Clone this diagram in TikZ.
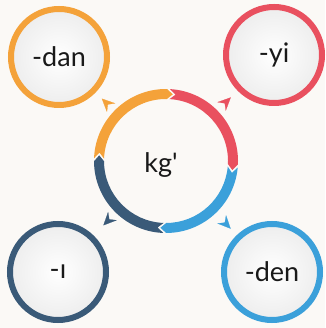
\documentclass[tikz,border=0pt]{standalone}
\usepackage{fontspec}
\setmainfont{Lato}
\usetikzlibrary{calc}
\usetikzlibrary{arrows.meta}
\definecolor{cOrange}{HTML}{F4A23A}
\definecolor{cRed}{HTML}{E9505F}
\definecolor{cDark}{HTML}{3A5A78}
\definecolor{cLight}{HTML}{3BA0DA}
\definecolor{paper}{HTML}{FBF9F6}

\def\rOut{72}
\def\rIn{62}
\def\rMid{67}
\def\gapA{1.2}
\def\tipA{5}

% one piece of the ring, clockwise from #2 to #3
\newcommand{\ringarrow}[3]{%
  \fill[#1] (#2-\gapA:\rOut) arc[start angle=#2-\gapA, end angle=#3+\gapA, radius=\rOut]
    -- (#3+\gapA-\tipA:\rMid) -- (#3+\gapA:\rIn)
    arc[start angle=#3+\gapA, end angle=#2-\gapA, radius=\rIn]
    -- (#2-\gapA-\tipA:\rMid) -- cycle;}

\begin{document}
\begin{tikzpicture}[x=1pt, y=1pt,
  suffix/.style={circle, draw=#1, line width=6pt, minimum size=96pt,
    inner color=white, outer color=black!7, text=black!90,
    font=\fontsize{27}{30}\selectfont},
  smallhead/.style={#1, line width=0.2pt,
    -{Stealth[length=13pt, width=12pt, inset=4.5pt]}}]

% background
\fill[paper] (0,0) rectangle (325,328);
\useasboundingbox (0,0) rectangle (325,328);

% middle
\coordinate (hub) at (166,167);
\node[text=black!90, font=\fontsize{27}{30}\selectfont] (kg) at (161,163) {kg\textquotesingle};

% the four endings
\node[suffix=cOrange] (dan) at (59,271) {-dan};
\node[suffix=cRed] (yi) at (274,273) {-yi};
\node[suffix=cDark] (i) at (58,56) {-ı};
\node[suffix=cLight] (den) at (272,56) {-den};

% ring
\begin{scope}[shift={(hub)}]
  \ringarrow{cOrange}{179}{88}
  \ringarrow{cRed}{88}{-4}
  \ringarrow{cLight}{-4}{-91}
  \ringarrow{cDark}{-91}{-181}
\end{scope}

% small heads
\draw[smallhead=cOrange] ($(hub)!0.55!(dan)$) -- ($(hub)!0.6!(dan)$);
\draw[smallhead=cRed] ($(hub)!0.55!(yi)$) -- ($(hub)!0.6!(yi)$);
\draw[smallhead=cDark] ($(hub)!0.53!(i)$) -- ($(hub)!0.58!(i)$);
\draw[smallhead=cLight] ($(hub)!0.56!(den)$) -- ($(hub)!0.61!(den)$);

\end{tikzpicture}
\end{document}
